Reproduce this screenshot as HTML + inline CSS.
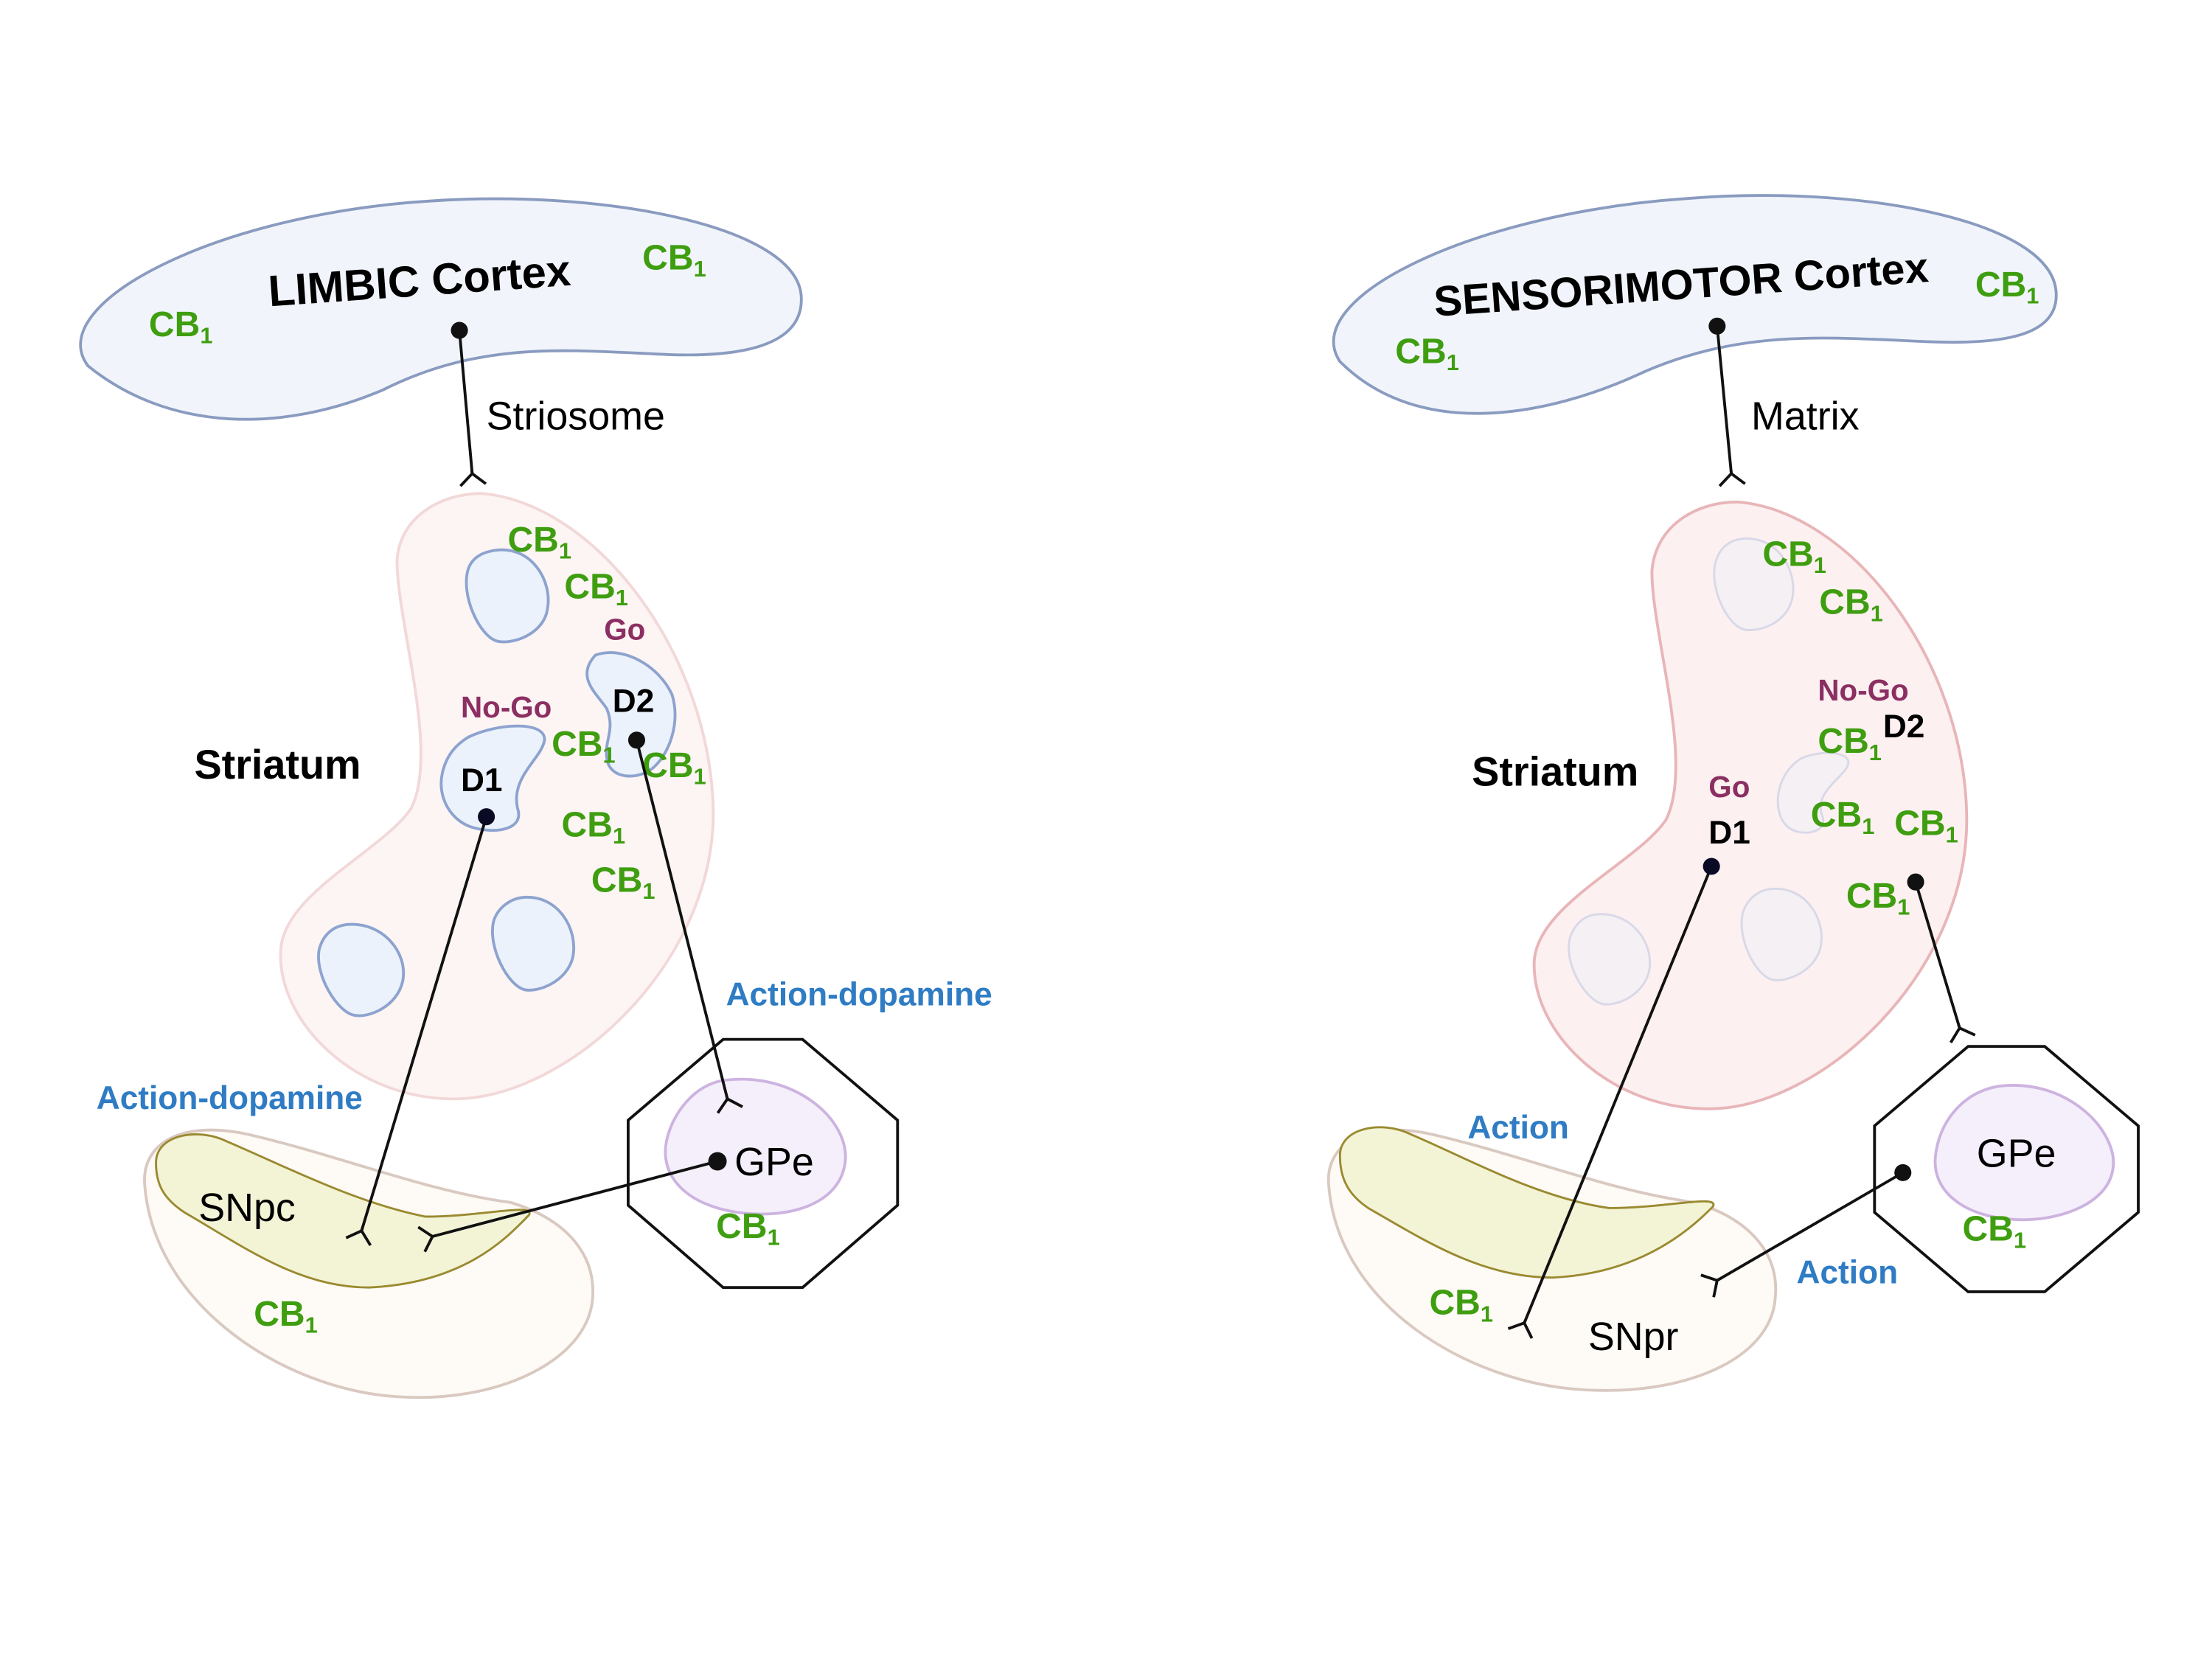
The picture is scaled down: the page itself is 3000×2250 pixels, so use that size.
<!DOCTYPE html>
<html><head><meta charset="utf-8"><style>html,body{margin:0;padding:0;background:#fff}svg{display:block}
text{font-family:"Liberation Sans",sans-serif}
.cb{fill:#3f9e10;font-weight:bold;font-size:25px}
.p{fill:#8b2f62;font-weight:bold;font-size:21px}
.b{fill:#2f7cc4;font-weight:bold;font-size:23px}
.k{fill:#000;font-weight:bold}
.n{fill:#000;font-size:28px}
.ln{stroke:#111;stroke-width:2;fill:none}
</style></head><body>
<svg width="3000" height="2250" viewBox="0 0 1560 1170" xmlns="http://www.w3.org/2000/svg">
<rect width="1560" height="1170" fill="#fff"/>
<defs><path id="fk" d="M0 0 L-9 8 M0 0 L9 8 M0 -2 L0 0" stroke="#111" stroke-width="2" fill="none"/></defs>

<!-- LEFT -->
<path d="M62 258 C30 215,150 152,300 142 C420 133,560 158,565 208 C568 245,520 252,470 250 C400 247,340 240,270 275 C200 305,120 305,62 258 Z" fill="#f1f5fb" stroke="#8a9bc0" stroke-width="2"/>
<path d="M340 348 C420 355,500 460,503 570 C505 680,400 775,320 775 C250 775,195 720,198 670 C200 630,270 600,290 570 C310 530,280 440,280 395 C282 365,310 348,340 348 Z" fill="#fdf4f4" stroke="#f2d8d8" stroke-width="2"/>
<path d="M350 388 C375 385,390 410,386 430 C383 448,360 455,350 452 C338 448,325 420,330 402 C333 392,342 389,350 388Z" fill="#ecf2fb" stroke="#8da3cf" stroke-width="2"/>
<path d="M245 652 C270 650,288 672,284 692 C280 710,260 718,250 716 C238 714,222 688,225 670 C228 658,236 653,245 652Z" fill="#ecf2fb" stroke="#8da3cf" stroke-width="2"/>
<path d="M368 633 C393 630,408 655,404 675 C400 692,380 700,370 698 C358 695,344 668,348 650 C351 640,360 634,368 633Z" fill="#ecf2fb" stroke="#8da3cf" stroke-width="2"/>
<path d="M330 520 C350 510,385 508,384 522 C382 535,360 548,365 570 C370 585,350 588,335 584 C318 580,308 562,312 545 C315 532,322 525,330 520Z" fill="#ecf2fb" stroke="#8da3cf" stroke-width="2"/>
<path d="M420 462 C440 455,465 470,474 490 C480 510,472 532,460 542 C450 550,430 550,428 535 C426 522,434 515,428 500 C422 490,405 478,420 462Z" fill="#ecf2fb" stroke="#8da3cf" stroke-width="2"/>
<path d="M102 835 C100 805,130 790,175 800 C240 815,300 840,360 848 C400 860,420 885,418 915 C415 960,350 990,280 985 C200 980,108 920,102 835Z" fill="#fefaf6" stroke="#d9c9c0" stroke-width="2"/>
<path d="M110 820 C110 800,140 795,160 805 C200 822,250 848,300 858 C340 858,378 848,373 857 C360 870,330 905,260 908 C210 908,170 878,130 855 C115 845,110 835,110 820Z" fill="#f3f3d6" stroke="#9a8a30" stroke-width="1.5"/>
<polygon points="510,733 566,733 633,790 633,850 566,908 510,908 443,850 443,790" fill="none" stroke="#111" stroke-width="2"/>
<path d="M510 762 C560 755,600 790,596 820 C592 850,555 860,520 855 C485 850,465 830,470 805 C474 785,490 765,510 762Z" fill="#f4effb" stroke="#cdb3e0" stroke-width="2"/>

<text transform="translate(190 216) rotate(-4)" class="k" font-size="31">LIMBIC Cortex</text>
<text x="105" y="237" class="cb">CB<tspan font-size="16" dy="5">1</tspan></text>
<text x="453" y="190" class="cb">CB<tspan font-size="16" dy="5">1</tspan></text>
<text x="343" y="303" class="n" font-size="26">Striosome</text>
<text x="137" y="549" class="k" font-size="29">Striatum</text>
<text x="358" y="389" class="cb">CB<tspan font-size="16" dy="5">1</tspan></text>
<text x="398" y="422" class="cb">CB<tspan font-size="16" dy="5">1</tspan></text>
<text x="426" y="451" class="p">Go</text>
<text x="325" y="506" class="p">No-Go</text>
<text x="432" y="502" class="k" font-size="23">D2</text>
<text x="325" y="558" class="k" font-size="23">D1</text>
<text x="389" y="533" class="cb">CB<tspan font-size="16" dy="5">1</tspan></text>
<text x="453" y="548" class="cb">CB<tspan font-size="16" dy="5">1</tspan></text>
<text x="396" y="590" class="cb">CB<tspan font-size="16" dy="5">1</tspan></text>
<text x="417" y="629" class="cb">CB<tspan font-size="16" dy="5">1</tspan></text>
<text x="512" y="709" class="b">Action-dopamine</text>
<text x="68" y="782" class="b">Action-dopamine</text>
<text x="140" y="861" class="n">SNpc</text>
<text x="518" y="829" class="n">GPe</text>
<text x="505" y="873" class="cb">CB<tspan font-size="16" dy="5">1</tspan></text>
<text x="179" y="935" class="cb">CB<tspan font-size="16" dy="5">1</tspan></text>

<line class="ln" x1="324" y1="233" x2="333" y2="334"/><use href="#fk" transform="translate(333 334) rotate(-5)"/><circle cx="324" cy="233" r="6" fill="#111"/>
<line class="ln" x1="343" y1="576" x2="255" y2="868"/><use href="#fk" transform="translate(255 868) rotate(17)"/><circle cx="343" cy="576" r="6" fill="#0a0a25"/>
<line class="ln" x1="449" y1="522" x2="513" y2="775"/><use href="#fk" transform="translate(513 775) rotate(-14)"/><circle cx="449" cy="522" r="6" fill="#111"/>
<line class="ln" x1="506" y1="819" x2="305" y2="872"/><use href="#fk" transform="translate(305 872) rotate(75)"/><circle cx="506" cy="819" r="6.5" fill="#111"/>

<!-- RIGHT -->
<path d="M945 255 C915 210,1040 150,1190 140 C1310 130,1445 155,1450 205 C1453 238,1410 243,1360 241 C1290 238,1230 232,1160 262 C1090 295,1000 310,945 255 Z" fill="#f1f5fb" stroke="#8a9bc0" stroke-width="2"/>
<path d="M1225 354 C1305 360,1385 465,1387 575 C1389 685,1285 782,1205 782 C1135 782,1080 728,1082 678 C1084 638,1155 608,1175 578 C1195 538,1165 448,1165 403 C1167 372,1195 354,1225 354 Z" fill="#fcf0f0" stroke="#e8b5b8" stroke-width="2"/>
<path d="M1228 380 C1253 377,1268 402,1264 422 C1260 440,1240 446,1230 444 C1218 441,1205 414,1210 396 C1213 386,1220 381,1228 380Z" fill="#f4f0f3" stroke="#d8d8e8" stroke-width="1.5"/>
<path d="M1125 645 C1150 642,1167 665,1163 685 C1159 702,1140 710,1130 708 C1118 705,1103 680,1107 662 C1110 652,1117 646,1125 645Z" fill="#f4f0f3" stroke="#d8d8e8" stroke-width="1.5"/>
<path d="M1248 627 C1273 624,1288 648,1284 668 C1280 685,1260 693,1250 691 C1238 688,1225 662,1229 644 C1232 634,1240 628,1248 627Z" fill="#f4f0f3" stroke="#d8d8e8" stroke-width="1.5"/>
<path d="M1270 535 C1285 528,1310 530,1302 542 C1295 552,1280 560,1285 575 C1290 588,1270 590,1262 584 C1250 576,1250 548,1270 535Z" fill="#f4f0f3" stroke="#d8d8e8" stroke-width="1.5"/>
<path d="M937 835 C935 805,965 790,1010 800 C1075 815,1135 840,1195 848 C1235 860,1255 885,1252 915 C1249 960,1185 985,1115 980 C1035 975,943 920,937 835Z" fill="#fefaf6" stroke="#d9c9c0" stroke-width="2"/>
<path d="M945 815 C945 795,975 790,995 800 C1035 817,1085 845,1135 852 C1175 852,1213 842,1208 851 C1195 864,1160 898,1095 901 C1045 901,1005 875,965 852 C950 842,945 830,945 815Z" fill="#f3f3d6" stroke="#9a8a30" stroke-width="1.5"/>
<polygon points="1388,738 1442,738 1508,794 1508,855 1442,911 1388,911 1322,855 1322,794" fill="none" stroke="#111" stroke-width="2"/>
<path d="M1410 766 C1460 760,1495 800,1490 825 C1486 850,1450 862,1420 860 C1385 858,1362 840,1365 815 C1368 790,1385 770,1410 766Z" fill="#f4effb" stroke="#cdb3e0" stroke-width="2"/>

<text transform="translate(1012 223) rotate(-4)" class="k" font-size="30">SENSORIMOTOR Cortex</text>
<text x="984" y="256" class="cb">CB<tspan font-size="16" dy="5">1</tspan></text>
<text x="1393" y="209" class="cb">CB<tspan font-size="16" dy="5">1</tspan></text>
<text x="1235" y="303" class="n" font-size="26">Matrix</text>
<text x="1038" y="554" class="k" font-size="29">Striatum</text>
<text x="1243" y="399" class="cb">CB<tspan font-size="16" dy="5">1</tspan></text>
<text x="1283" y="433" class="cb">CB<tspan font-size="16" dy="5">1</tspan></text>
<text x="1282" y="494" class="p">No-Go</text>
<text x="1328" y="520" class="k" font-size="23">D2</text>
<text x="1282" y="531" class="cb">CB<tspan font-size="16" dy="5">1</tspan></text>
<text x="1205" y="562" class="p">Go</text>
<text x="1205" y="595" class="k" font-size="23">D1</text>
<text x="1277" y="583" class="cb">CB<tspan font-size="16" dy="5">1</tspan></text>
<text x="1336" y="589" class="cb">CB<tspan font-size="16" dy="5">1</tspan></text>
<text x="1302" y="640" class="cb">CB<tspan font-size="16" dy="5">1</tspan></text>
<text x="1035" y="803" class="b">Action</text>
<text x="1267" y="905" class="b">Action</text>
<text x="1008" y="927" class="cb">CB<tspan font-size="16" dy="5">1</tspan></text>
<text x="1120" y="952" class="n">SNpr</text>
<text x="1394" y="823" class="n">GPe</text>
<text x="1384" y="875" class="cb">CB<tspan font-size="16" dy="5">1</tspan></text>

<line class="ln" x1="1211" y1="230" x2="1221" y2="334"/><use href="#fk" transform="translate(1221 334) rotate(-5)"/><circle cx="1211" cy="230" r="6" fill="#111"/>
<line class="ln" x1="1207" y1="611" x2="1075" y2="933"/><use href="#fk" transform="translate(1075 933) rotate(22)"/><circle cx="1207" cy="611" r="6" fill="#0a0a25"/>
<line class="ln" x1="1351" y1="622" x2="1382" y2="725"/><use href="#fk" transform="translate(1382 725) rotate(-17)"/><circle cx="1351" cy="622" r="6" fill="#111"/>
<line class="ln" x1="1342" y1="827" x2="1211" y2="903"/><use href="#fk" transform="translate(1211 903) rotate(60)"/><circle cx="1342" cy="827" r="6" fill="#111"/>
</svg>
</body></html>
